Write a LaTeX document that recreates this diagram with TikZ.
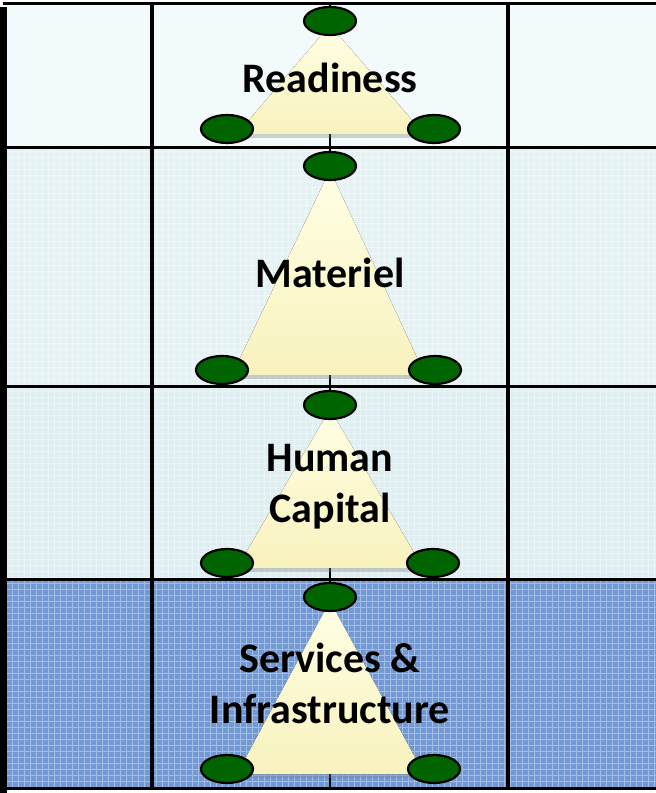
\documentclass[tikz,border=0pt]{standalone}
\usepackage{fontspec}
\setmainfont{Carlito}
\usetikzlibrary{shadows,shapes.geometric}

\definecolor{rowA}{HTML}{F3FAFB}
\definecolor{rowB}{HTML}{E5F2F4}
\definecolor{rowC}{HTML}{DFEEF1}
\definecolor{rowD}{HTML}{7299D3}
\definecolor{cone}{HTML}{FFFFE4}
\definecolor{conebase}{HTML}{F8F2BE}
\definecolor{pin}{HTML}{006400}

\tikzset{
  rule/.style={line width=3pt, black},
  weave/.style={line width=0.8pt, white, opacity=#1},
  pinnode/.style={ellipse, draw=black, line width=2.2pt, fill=pin,
    minimum width=52pt, minimum height=28pt, inner sep=0pt},
  conefill/.style={top color=cone, bottom color=conebase,
    drop shadow={opacity=0.35, shadow xshift=0pt, shadow yshift=-4pt}},
  tag/.style={font=\fontsize{42}{51}\selectfont\bfseries, align=center,
    text=black}
}

\begin{document}
\begin{tikzpicture}[x=1pt, y=1pt]

  \useasboundingbox (0,0) rectangle (656,793);

  % row bands, light to dark
  \fill[rowA] (7,645) rectangle (656,789);
  \fill[rowB] (7,406) rectangle (656,645);
  \fill[rowC] (7,213) rectangle (656,406);
  \fill[rowD] (7,4)   rectangle (656,213);

  % cloth texture
  \draw[weave=0.35] (7,406) grid[step=6pt] (656,645);
  \draw[weave=0.35] (7,213) grid[step=6pt] (656,406);
  \draw[weave=0.35] (7,4)   grid[step=6pt] (656,213);

  % grid rules
  \coordinate (nw) at (3,789);
  \coordinate (ne) at (656,789);
  \draw[rule] (nw) -- (ne);
  \foreach \y in {645,406,213,4}
    \draw[rule] (7,\y) -- (656,\y);
  \foreach \x in {152,508}
    \draw[line width=4pt] (\x,4) -- (\x,789);
  \draw[line width=1.5pt] (330,4) -- (330,789);
  \fill[black] (0,0) rectangle (7,786);

  % one triangle per row: top y, base y, left x, right x, label y, label
  \foreach \i/\top/\bot/\xl/\xr/\ty/\txt in {
      1/772/664/227/434/715/{Readiness},
      2/627/423/222/435/520/{Materiel},
      3/388/230/227/433/306/{Human\\Capital},
      4/196/24/227/434/110/{Services \&\\Infrastructure}}{
    \coordinate (apex\i) at (330,\top-4);
    \coordinate (bl\i) at (\xl+10,\bot-5);
    \coordinate (br\i) at (\xr-10,\bot-5);
    \fill[conefill] (apex\i) -- (br\i) -- (bl\i) -- cycle;
    \node[pinnode] (top\i)   at (330,\top) {};
    \node[pinnode] (left\i)  at (\xl,\bot) {};
    \node[pinnode] (right\i) at (\xr,\bot) {};
    \node[tag] (label\i) at (330,\ty) {\txt};
  }

\end{tikzpicture}
\end{document}
